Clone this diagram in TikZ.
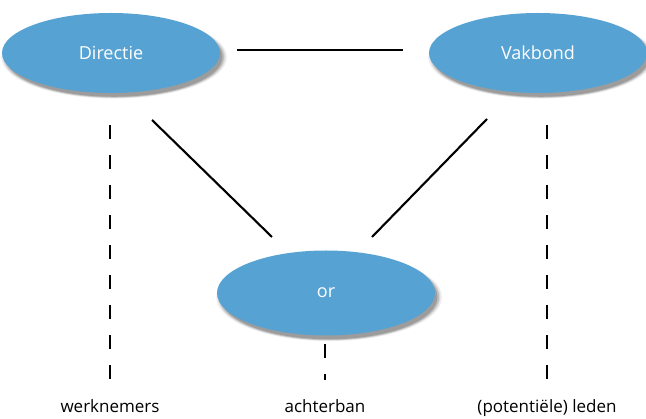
\documentclass[tikz,border=0pt]{standalone}
\usepackage{fontspec}
\setmainfont{Open Sans}
\usetikzlibrary{shapes.geometric,shadows}
\definecolor{partyblue}{RGB}{85,162,211}

\begin{document}
\begin{tikzpicture}[x=1pt, y=-1pt, every node/.style={font=\fontsize{17}{20}\selectfont},
  party/.style={ellipse, fill=partyblue, text=white, minimum width=218pt, minimum height=80pt, inner sep=0pt,
    font=\fontsize{18}{21}\selectfont,
    drop shadow={shadow xshift=3pt, shadow yshift=-4pt, opacity=0.07, fill=black, shadow scale=1.035},
    drop shadow={shadow xshift=3pt, shadow yshift=-4pt, opacity=0.09, fill=black, shadow scale=1.02},
    drop shadow={shadow xshift=3pt, shadow yshift=-4pt, opacity=0.12, fill=black, shadow scale=1.01},
    drop shadow={shadow xshift=3pt, shadow yshift=-4pt, opacity=0.18, fill=black, shadow scale=0.995}},
  lbl/.style={anchor=base, inner sep=0pt, text height=12pt, text depth=3pt},
  link/.style={line width=2.1pt},
  base/.style={line width=2.1pt, dash pattern=on 14pt off 16pt}]
\useasboundingbox (0,0) rectangle (646,419);
% the three parties
\node[party] (dir) at (111,53) {Directie};
\node[party] (vak) at (538,53) {Vakbond};
\node[party, minimum height=85pt] (or) at (326,293) {or};
% labels of the rank and file
\node[lbl] (wn) at (110,413) {werknemers};
\node[lbl] (ab) at (325,413) {achterban};
\node[lbl] (pl) at (547,413) {(potentiële) leden};

\draw[link, shorten <=17pt, shorten >=26pt] ([yshift=3pt]dir.east) -- ([yshift=3pt]vak.west);
\draw[link] ([shift={(41,67)}]dir.center) -- ([shift={(-54,-56)}]or.center);
\draw[link] ([shift={(-51,66)}]vak.center) -- ([shift={(46,-56)}]or.center);

\draw[base, shorten <=32pt, shorten >=21pt] (wn |- dir.south) -- (wn.north);
\draw[base, shorten <=8pt, shorten >=21pt] (ab |- or.south) -- (ab.north);
\draw[base, shorten <=32pt, shorten >=21pt] (pl |- vak.south) -- (pl.north);
\end{tikzpicture}
\end{document}
